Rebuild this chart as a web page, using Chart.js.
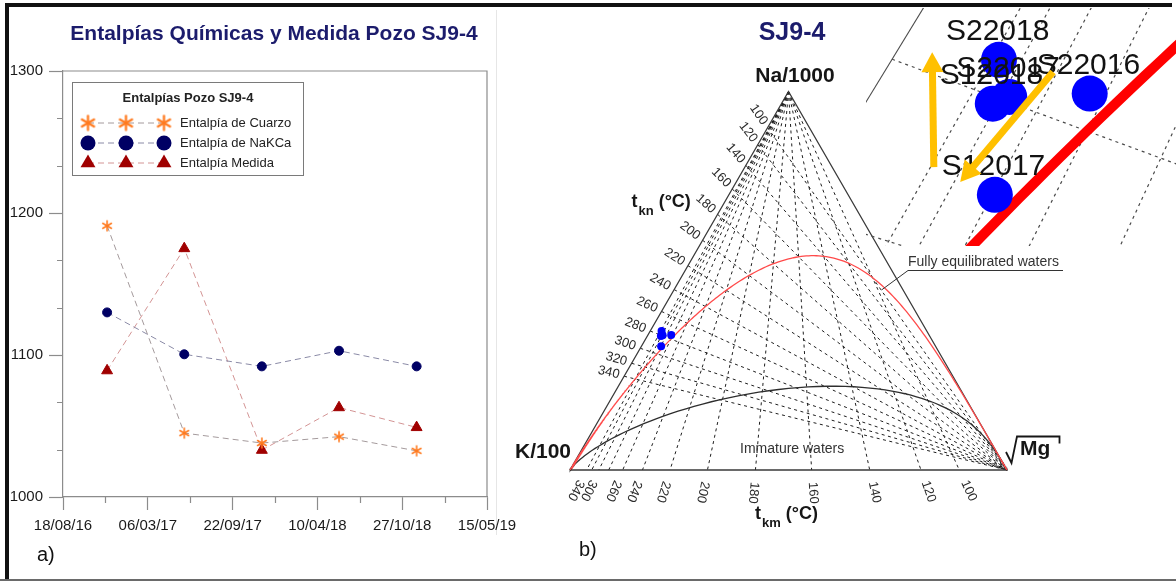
<!DOCTYPE html>
<html>
<head>
<meta charset="utf-8">
<script src="https://cdn.jsdelivr.net/npm/chart.js@4.4.1/dist/chart.umd.min.js"></script>
<style>
  html, body { margin: 0; padding: 0; background: #fff; }
  body { width: 1176px; height: 582px; position: relative; overflow: hidden; }
  canvas { position: absolute; }
  #cA { left: 0; top: 0; }
  #cB { left: 500px; top: 0; }
  #cC { left: 866px; top: 8px; }
  .rule { position: absolute; }
</style>
</head>
<body>
<div class="rule" style="left:496px;top:10px;width:1px;height:525px;background:#e6e6e6"></div>
<canvas id="cA" width="530" height="582"></canvas>
<canvas id="cB" width="676" height="582"></canvas>
<canvas id="cC" width="310" height="238"></canvas>
<div class="rule" style="left:5px;top:3px;width:1167px;height:4px;background:#111"></div>
<div class="rule" style="left:5px;top:3px;width:4px;height:576px;background:#111"></div>
<div class="rule" style="left:0;top:579px;width:1176px;height:2px;background:#6a6a6a"></div>
<script>
const FONT = '"Liberation Sans", Arial, Helvetica, sans-serif';

// ---------- Panel a) : enthalpies of well SJ9-4 ----------
const axisStart = '2016-08-18';
const axisSpanDays = 1000;
const sampleDates = ['2016-11-30', '2017-05-31', '2017-11-30', '2018-05-31', '2018-11-30'];
const hCuarzo = [1191, 1045, 1038, 1042.5, 1032.5];
const hNaKCa  = [1130, 1100.5, 1092, 1103, 1092];
const hMedida = [1089, 1175, 1033, 1063, 1049];
const seriesNames = ['Entalpía de Cuarzo', 'Entalpía de NaKCa', 'Entalpía Medida'];
const enthalpyTicks = [1000, 1100, 1200, 1300];

const DAY = 86400000;
const t0 = Date.parse(axisStart + 'T00:00:00Z');
const dayOf = d => Math.round((Date.parse(d + 'T00:00:00Z') - t0) / DAY);
const pad2 = n => String(n).padStart(2, '0');
const fmtDay = v => {
  const d = new Date(t0 + v * DAY);
  return pad2(d.getUTCDate()) + '/' + pad2(d.getUTCMonth() + 1) + '/' + pad2(d.getUTCFullYear() % 100);
};

function asterisk(color, r, lw) {
  const s = Math.ceil(2 * r + lw + 2);
  const c = document.createElement('canvas');
  c.width = c.height = s;
  const g = c.getContext('2d');
  g.strokeStyle = color; g.lineWidth = lw; g.lineCap = 'round';
  g.translate(s / 2, s / 2);
  for (let i = 0; i < 3; i++) {
    const a = Math.PI / 2 + i * Math.PI / 3;
    g.beginPath();
    g.moveTo(Math.cos(a) * r, Math.sin(a) * r);
    g.lineTo(-Math.cos(a) * r, -Math.sin(a) * r);
    g.stroke();
  }
  return c;
}

const ORANGE = '#ff7a1f', NAVY = '#000064', DARKRED = '#a00000';
const starSmall = asterisk(ORANGE, 5, 1.6);
const starBig = asterisk(ORANGE, 7, 2.3);
const lineColors = ['#a49a9c', '#8a8aa6', '#d39494'];

const series = (vals) => sampleDates.map((d, i) => ({ x: dayOf(d), y: vals[i] }));

const panelA = {
  id: 'panelA',
  afterDraw(chart) {
    const { ctx, chartArea: ca, scales: { x, y } } = chart;
    ctx.save();
    // plot frame (top and right)
    ctx.strokeStyle = '#8c8c8c'; ctx.lineWidth = 1.2;
    ctx.beginPath();
    ctx.moveTo(ca.left, ca.top); ctx.lineTo(ca.right, ca.top); ctx.lineTo(ca.right, ca.bottom);
    ctx.stroke();
    // minor ticks
    ctx.beginPath();
    for (let v = 1000; v < 1300; v += 100) {
      for (const f of [1 / 3, 2 / 3]) {
        const py = Math.round(y.getPixelForValue(v + 100 * f)) + 0.5;
        ctx.moveTo(ca.left - 6, py); ctx.lineTo(ca.left, py);
      }
    }
    for (let v = 100; v < axisSpanDays; v += 200) {
      const px = Math.round(x.getPixelForValue(v)) + 0.5;
      ctx.moveTo(px, ca.bottom); ctx.lineTo(px, ca.bottom + 6);
    }
    ctx.stroke();

    // title
    ctx.fillStyle = '#1c1c6c';
    ctx.font = 'bold 21px ' + FONT;
    ctx.textAlign = 'center'; ctx.textBaseline = 'middle';
    ctx.fillText('Entalpías Químicas y Medida Pozo SJ9-4', 274, 34);

    // legend
    const bx = 72.5, by = 82.5, bw = 231, bh = 93;
    ctx.fillStyle = '#fff'; ctx.fillRect(bx, by, bw, bh);
    ctx.strokeStyle = '#7a7a7a'; ctx.lineWidth = 1;
    ctx.strokeRect(bx, by, bw, bh);
    ctx.fillStyle = '#222';
    ctx.font = 'bold 13px ' + FONT;
    ctx.fillText('Entalpías Pozo SJ9-4', 188, 98);
    const rows = [123, 143, 163];
    const mx = [88, 126, 164];
    rows.forEach((ry, i) => {
      ctx.save();
      ctx.strokeStyle = lineColors[i]; ctx.lineWidth = 1; ctx.setLineDash([6, 4]);
      ctx.beginPath(); ctx.moveTo(mx[0], ry); ctx.lineTo(mx[2], ry); ctx.stroke();
      ctx.restore();
      mx.forEach(cx => {
        if (i === 0) {
          ctx.drawImage(starBig, cx - starBig.width / 2, ry - starBig.height / 2);
        } else if (i === 1) {
          ctx.fillStyle = NAVY;
          ctx.beginPath(); ctx.arc(cx, ry, 7.5, 0, Math.PI * 2); ctx.fill();
        } else {
          const r = 8.6;
          ctx.fillStyle = DARKRED;
          ctx.beginPath();
          ctx.moveTo(cx, ry - r);
          ctx.lineTo(cx + r * Math.sin(Math.PI * 2 / 3), ry - r * Math.cos(Math.PI * 2 / 3));
          ctx.lineTo(cx - r * Math.sin(Math.PI * 2 / 3), ry - r * Math.cos(Math.PI * 2 / 3));
          ctx.closePath(); ctx.fill();
        }
      });
      ctx.fillStyle = '#222';
      ctx.font = '13px ' + FONT;
      ctx.textAlign = 'left';
      ctx.fillText(seriesNames[i], 180, ry + 0.5);
      ctx.textAlign = 'center';
    });

    // panel tag
    ctx.fillStyle = '#111';
    ctx.font = '20px ' + FONT;
    ctx.textAlign = 'left'; ctx.textBaseline = 'alphabetic';
    ctx.fillText('a)', 37, 561);
    ctx.restore();
  }
};

new Chart(document.getElementById('cA'), {
  type: 'scatter',
  data: {
    datasets: [
      { label: seriesNames[0], data: series(hCuarzo), showLine: true, borderColor: lineColors[0],
        borderWidth: 1, borderDash: [6, 4], pointStyle: starSmall, pointRadius: 5 },
      { label: seriesNames[1], data: series(hNaKCa), showLine: true, borderColor: lineColors[1],
        borderWidth: 1, borderDash: [6, 4], pointStyle: 'circle', pointRadius: 4.5,
        pointBackgroundColor: NAVY, pointBorderColor: NAVY, pointBorderWidth: 1 },
      { label: seriesNames[2], data: series(hMedida), showLine: true, borderColor: lineColors[2],
        borderWidth: 1, borderDash: [6, 4], pointStyle: 'triangle', pointRadius: 6.3,
        pointBackgroundColor: DARKRED, pointBorderColor: DARKRED, pointBorderWidth: 1 }
    ]
  },
  options: {
    responsive: false, animation: false, events: [],
    layout: { padding: { top: 71, right: 43, left: 0, bottom: 0 }, autoPadding: false },
    plugins: { legend: { display: false }, tooltip: { enabled: false } },
    scales: {
      x: {
        type: 'linear', min: 0, max: axisSpanDays,
        afterFit(s) { s.height = 85; },
        ticks: { stepSize: 200, padding: 7, maxRotation: 0, autoSkip: false, color: '#1a1a1a',
                 font: { family: FONT, size: 15 }, callback: v => fmtDay(v) },
        grid: { drawOnChartArea: false, tickLength: 13, tickColor: '#8c8c8c', tickWidth: 1.2 },
        border: { color: '#8c8c8c', width: 1.2 }
      },
      y: {
        type: 'linear', min: enthalpyTicks[0], max: enthalpyTicks[enthalpyTicks.length - 1],
        afterFit(s) { s.width = 63; },
        afterBuildTicks(s) { s.ticks = enthalpyTicks.map(v => ({ value: v })); },
        ticks: { padding: 6, color: '#1a1a1a', font: { family: FONT, size: 15 }, callback: v => String(v) },
        grid: { drawOnChartArea: false, tickLength: 14, tickColor: '#8c8c8c', tickWidth: 1.2 },
        border: { color: '#8c8c8c', width: 1.2 }
      }
    }
  },
  plugins: [panelA]
});

// ---------- Panel b) : Giggenbach Na-K-Mg ternary ----------
const tempTicks = [100, 120, 140, 160, 180, 200, 220, 240, 260, 280, 300, 320, 340];
const tkmLabelTemps = [100, 120, 140, 160, 180, 200, 220, 240, 260, 300, 340];
const sampleNames = ['S22016', 'S12017', 'S22017', 'S12018', 'S22018'];
const pctNa = [35.7, 32.7, 35.6, 35.4, 36.7];   // Na/1000 share, %
const pctK  = [59.0, 62.8, 61.0, 61.5, 60.7];   // K/100 share, %
const pctMg = [5.3, 4.5, 3.4, 3.1, 2.6];        // sqrt(Mg) share, %

const H = Math.sqrt(3) / 2 * 100;
const tern = (na, k, mg) => { const s = na + k + mg; return { x: (mg + na / 2) / s * 100, y: na / s * H }; };
const V_K = tern(0, 1, 0), V_Na = tern(1, 0, 0), V_Mg = tern(0, 0, 1);

// Giggenbach (1988) geothermometers, concentrations in mg/kg
const naK = t => Math.pow(10, 1390 / (t + 273) - 1.75);    // Na/K
const k2mg = t => Math.pow(10, 14.0 - 4410 / (t + 273));   // K^2/Mg
const tknEdge = t => tern(naK(t) / 1000, 1 / 100, 0);
const tkmBase = t => tern(0, 1 / 100, Math.sqrt(1 / k2mg(t)));

const fullEqCurve = [V_Mg];
for (let t = -100; t <= 1500; t += 2) fullEqCurve.push(tern(naK(t) / 1000, 1 / 100, Math.sqrt(1 / k2mg(t))));
fullEqCurve.push(V_K);
// partial equilibrium boundary: maturity index 0.315*log(K^2/Mg) - log(K/Na) = 2.0
const immatureCurve = [V_Mg];
for (let L = -16; L <= 16; L += 0.1) immatureCurve.push(tern(Math.pow(10, 2.0 - 0.315 * L) / 1000, 1 / 100, Math.pow(10, -L / 2)));
immatureCurve.push(V_K);

const samplePts = sampleNames.map((n, i) => tern(pctNa[i], pctK[i], pctMg[i]));

const lineDS = (pts, color, width, dash) => ({
  data: pts, showLine: true, borderColor: color, borderWidth: width, borderDash: dash || [],
  pointRadius: 0, fill: false, tension: 0
});
const gridSets = (color, width, dash) => [
  ...tempTicks.map(t => lineDS([tknEdge(t), V_Mg], color, width, dash)),
  ...tempTicks.map(t => lineDS([V_Na, tkmBase(t)], color, width, dash))
];

function drawSubLabel(ctx, x, base, sub, rest, big, small) {
  ctx.font = 'bold ' + big + 'px ' + FONT;
  ctx.fillText('t', x, base);
  const w = ctx.measureText('t').width;
  ctx.font = 'bold ' + small + 'px ' + FONT;
  ctx.fillText(sub, x + w + 1, base + 8);
  const w2 = ctx.measureText(sub).width;
  ctx.font = 'bold ' + big + 'px ' + FONT;
  ctx.fillText(rest, x + w + 1 + w2 + 5, base);
}

const panelB = {
  id: 'panelB',
  afterDraw(chart) {
    const { ctx, scales: { x, y } } = chart;
    const P = p => ({ x: x.getPixelForValue(p.x), y: y.getPixelForValue(p.y) });
    ctx.save();
    ctx.fillStyle = '#2a2a2a';
    ctx.font = '13px ' + FONT;
    ctx.textBaseline = 'middle';
    const mg = P(V_Mg), na = P(V_Na);
    // Na-K temperatures along the K-Na side
    tempTicks.forEach(t => {
      const e = P(tknEdge(t));
      const a = Math.atan2(mg.y - e.y, mg.x - e.x);
      ctx.save();
      ctx.translate(e.x - Math.cos(a) * 5, e.y - Math.sin(a) * 5);
      ctx.rotate(a);
      ctx.textAlign = 'right';
      ctx.fillText(String(t), 0, 0);
      ctx.restore();
    });
    // K-Mg temperatures below the K-Mg side
    tkmLabelTemps.forEach(t => {
      const b = P(tkmBase(t));
      const a = Math.atan2(b.y - na.y, b.x - na.x);
      ctx.save();
      ctx.translate(b.x + Math.cos(a) * 12, b.y + Math.sin(a) * 12);
      ctx.rotate(a);
      ctx.textAlign = 'left';
      ctx.fillText(String(t), 0, 0);
      ctx.restore();
    });

    ctx.textBaseline = 'alphabetic';
    ctx.fillStyle = '#1c1c6c';
    ctx.font = 'bold 25px ' + FONT;
    ctx.textAlign = 'center';
    ctx.fillText('SJ9-4', 292, 40);

    ctx.fillStyle = '#161616';
    ctx.font = 'bold 21px ' + FONT;
    ctx.fillText('Na/1000', 295, 82);
    ctx.textAlign = 'right';
    ctx.fillText('K/100', 71, 458);
    ctx.textAlign = 'left';
    ctx.fillText('Mg', 520, 455);
    ctx.strokeStyle = '#161616'; ctx.lineWidth = 1.8;
    ctx.beginPath();
    ctx.moveTo(506, 452); ctx.lineTo(511.5, 463); ctx.lineTo(517, 436.5); ctx.lineTo(559.5, 436.5); ctx.lineTo(559.5, 443.5);
    ctx.stroke();

    drawSubLabel(ctx, 131.5, 207, 'kn', '(°C)', 18, 13);
    drawSubLabel(ctx, 255, 519, 'km', '(°C)', 18, 13);

    ctx.fillStyle = '#333';
    ctx.font = '14px ' + FONT;
    ctx.fillText('Immature waters', 240, 453);
    ctx.fillText('Fully equilibrated waters', 408, 266);
    ctx.strokeStyle = '#333'; ctx.lineWidth = 1;
    ctx.beginPath();
    ctx.moveTo(563, 270.5); ctx.lineTo(408, 270.5); ctx.lineTo(381.5, 290);
    ctx.stroke();

    ctx.fillStyle = '#111';
    ctx.font = '20px ' + FONT;
    ctx.fillText('b)', 79, 556);
    ctx.restore();
  }
};

const S = 4.37;                 // px per ternary unit
const KX = 70, KY = 470;        // K vertex in canvas px
new Chart(document.getElementById('cB'), {
  type: 'scatter',
  data: {
    datasets: [
      { data: samplePts, pointRadius: 4, pointBackgroundColor: '#0000ff', pointBorderColor: '#0000ff', pointBorderWidth: 0 },
      lineDS(fullEqCurve, '#ff4a4a', 1.3),
      lineDS(immatureCurve, '#2e2e2e', 1.3),
      lineDS([V_K, V_Na, V_Mg, V_K], '#3a3a3a', 1.3),
      ...gridSets('#1e1e1e', 1, [3, 3.5])
    ]
  },
  options: {
    responsive: false, animation: false, events: [],
    layout: { padding: 0, autoPadding: false },
    plugins: { legend: { display: false }, tooltip: { enabled: false } },
    scales: {
      x: { type: 'linear', display: false, min: -KX / S, max: (676 - KX) / S },
      y: { type: 'linear', display: false, min: -(582 - KY) / S, max: KY / S }
    }
  },
  plugins: [panelB]
});

// ---------- Close-up of the sample cluster ----------
const trendArrows = [
  { from: { x: 19.37, y: 29.03 }, to: { x: 19.33, y: 31.98 } },
  { from: { x: 22.26, y: 31.47 }, to: { x: 20.01, y: 28.65 } }
];

const panelC = {
  id: 'panelC',
  afterDatasetsDraw(chart) {
    const { ctx, scales: { x, y } } = chart;
    const P = p => ({ x: x.getPixelForValue(p.x), y: y.getPixelForValue(p.y) });
    ctx.save();
    ctx.fillStyle = '#121212';
    ctx.font = '30px ' + FONT;
    ctx.textAlign = 'left'; ctx.textBaseline = 'alphabetic';
    samplePts.forEach((p, i) => {
      const q = P(p);
      ctx.fillText(sampleNames[i], q.x - 53, q.y - 20);
    });
    ctx.fillStyle = '#ffc000';
    trendArrows.forEach(ar => {
      const a = P(ar.from), b = P(ar.to);
      const ang = Math.atan2(b.y - a.y, b.x - a.x), L = Math.hypot(b.x - a.x, b.y - a.y);
      const w = 7, hw = 22, hl = 20;
      ctx.save();
      ctx.translate(a.x, a.y); ctx.rotate(ang);
      ctx.fillRect(0, -w / 2, L - hl + 1, w);
      ctx.beginPath(); ctx.moveTo(L, 0); ctx.lineTo(L - hl, -hw / 2); ctx.lineTo(L - hl, hw / 2); ctx.closePath(); ctx.fill();
      ctx.restore();
    });
    ctx.restore();
  }
};

// close-up frame: page px = 135 + 41.24*x, 1298.4 - 38.97*y
const ZX = 41.24, ZY = 38.97;
new Chart(document.getElementById('cC'), {
  type: 'scatter',
  data: {
    datasets: [
      { data: samplePts, pointRadius: 18, pointBackgroundColor: '#0000ff', pointBorderColor: '#0000ff', pointBorderWidth: 0 },
      lineDS(fullEqCurve, '#ff0000', 10),
      lineDS([V_K, V_Na], '#4a4a4a', 1.1),
      ...gridSets('#4a4a4a', 1.2, [3, 4])
    ]
  },
  options: {
    responsive: false, animation: false, events: [],
    layout: { padding: 0, autoPadding: false },
    plugins: { legend: { display: false }, tooltip: { enabled: false } },
    scales: {
      x: { type: 'linear', display: false, min: (866 - 135) / ZX, max: (1176 - 135) / ZX },
      y: { type: 'linear', display: false, min: (1298.4 - 246) / ZY, max: (1298.4 - 8) / ZY }
    }
  },
  plugins: [panelC]
});
</script>
</body>
</html>
